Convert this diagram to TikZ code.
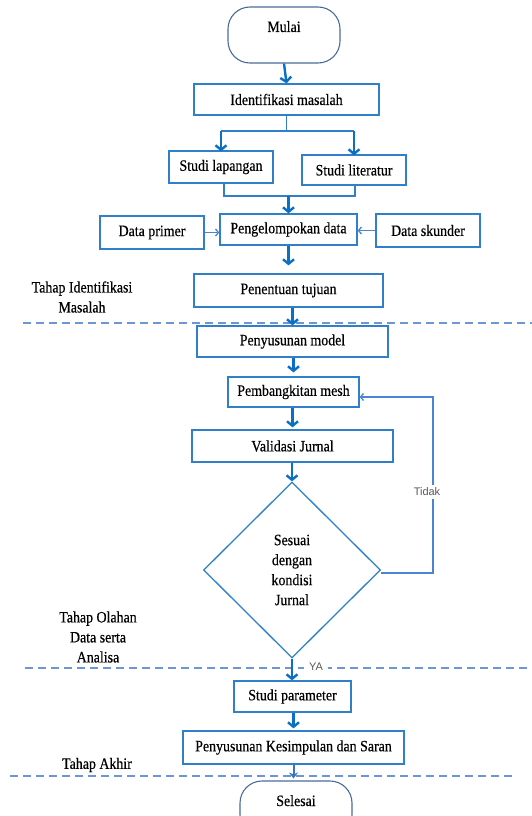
\documentclass[tikz,border=0pt]{standalone}
\usepackage{fontspec}
\setmainfont{Liberation Serif}[FakeStretch=0.88,FakeBold=0.4]
\newfontfamily\labsans{Liberation Sans}
\usetikzlibrary{arrows.meta,shapes.geometric,calc}
\definecolor{boxc}{HTML}{2F80C9}
\definecolor{arrc}{HTML}{0B6FC4}
\definecolor{thinc}{HTML}{4A86D0}
\definecolor{endc}{HTML}{3B74C4}
\definecolor{termc}{HTML}{4A6C9B}
\definecolor{dashc}{HTML}{6C96D4}
\definecolor{labc}{HTML}{5A5A5A}
\begin{document}
\begin{tikzpicture}[x=1pt,y=-1pt,
  every node/.style={font=\fontsize{15.8}{20}\selectfont},
  box/.style={draw=boxc,line width=1.3pt,inner sep=0pt,align=center},
  term/.style={draw=termc,line width=1.1pt,rounded corners=22pt,minimum width=112pt,minimum height=56pt,inner sep=0pt,text height=8pt,text depth=14pt},
  lab/.style={align=center,inner sep=0pt},
  small/.style={font=\labsans\fontsize{11}{13}\selectfont,text=labc,fill=white,inner sep=3pt},
  arr/.style={draw=arrc,line width=2.4pt,-{Straight Barb[length=4.5pt,width=11pt]}},
  ln/.style={draw=boxc,line width=1.3pt},
  thinarr/.style={draw=thinc,line width=1.3pt,-{Straight Barb[length=3pt,width=7pt]}},
  endarr/.style={draw=endc,line width=2pt,-{Stealth[length=6pt,width=9pt]}},
  dashl/.style={draw=dashc,line width=1.4pt,dash pattern=on 8pt off 5pt}
]
\useasboundingbox (0,0) rectangle (532,816);
\clip (0,0) rectangle (532,816);
\fill[white] (0,0) rectangle (532,816);

% phase separators
\draw[dashl] (23,323) -- (532,323);
\draw[dashl] (25,668) -- (532,668);
\draw[dashl] (10,776) -- (512,776);

% nodes
\node[term] (mulai) at (284,35) {Mulai};
\node[box,minimum width=185pt,minimum height=31pt] (ident) at (286.5,99.5) {Identifikasi masalah};
\node[box,minimum width=104pt,minimum height=32pt] (lap) at (221,167) {Studi lapangan};
\node[box,minimum width=104pt,minimum height=30pt] (lit) at (354,170) {Studi literatur};
\node[box,minimum width=137pt,minimum height=31pt] (kel) at (288.5,229.5) {Pengelompokan data};
\node[box,minimum width=104pt,minimum height=33pt] (prim) at (152,232.5) {Data primer};
\node[box,minimum width=104pt,minimum height=33pt] (skun) at (428,230.5) {Data skunder};
\node[box,minimum width=189pt,minimum height=33pt] (tuj) at (288.5,290.5) {Penentuan tujuan};
\node[box,minimum width=191pt,minimum height=31pt] (model) at (292.5,341.5) {Penyusunan model};
\node[box,minimum width=131pt,minimum height=30pt] (mesh) at (293.5,392) {Pembangkitan mesh};
\node[box,minimum width=201pt,minimum height=32pt] (valid) at (292.5,446) {Validasi Jurnal};
\node[diamond,draw=boxc,line width=1.3pt,minimum width=177pt,minimum height=176pt,inner sep=0pt,align=center] (dec) at (292,570) {Sesuai\\dengan\\kondisi\\Jurnal};
\node[box,minimum width=117pt,minimum height=31pt] (par) at (292.5,696.5) {Studi parameter};
\node[box,minimum width=221pt,minimum height=33pt] (kes) at (293.5,747.5) {Penyusunan Kesimpulan dan Saran};
\node[term] (sel) at (296,809) {Selesai};

% phase labels
\node[lab] (t1) at (82,297) {Tahap Identifikasi\\Masalah};
\node[lab] (t2) at (98,637) {Tahap Olahan\\Data serta\\Analisa};
\node[lab] (t3) at (97,765) {Tahap Akhir};

% connectors
\coordinate (jt) at (286.5,131);
\coordinate (jb) at (288.5,196);
\draw[arr] (mulai.south) -- (ident.north);
\draw[ln] (ident.south) -- (jt);
\draw[ln] (lap.north |- jt) -- (lit.north |- jt);
\draw[arr] (lap.north |- jt) -- ([yshift=-1pt]lap.north);
\draw[arr] (lit.north |- jt) -- ([yshift=-1pt]lit.north);
\draw[ln] ([xshift=3pt]lap.south) |- (jb) -| ([xshift=1pt]lit.south);
\draw[arr] (jb) -- (kel.north);
\draw[thinarr] (prim.east) -- (prim.east -| kel.west);
\draw[thinarr] (skun.west) -- (skun.west -| kel.east);
\draw[arr,shorten >=8pt] (kel.south) -- (kel.south |- tuj.north);
\draw[arr] (tuj.south -| model.north) -- (model.north);
\draw[arr,shorten >=4pt] (model.south -| mesh.north) -- (mesh.north);
\draw[arr,shorten >=2pt] (mesh.south -| valid.north) -- (valid.north);
\draw[arr] (valid.south -| dec.north) -- (dec.north);
\draw[arr] (dec.south) -- (dec.south |- par.north);
\draw[arr,shorten >=2pt] (par.south -| kes.north) -- (kes.north);
\draw[endarr,shorten >=2pt] (kes.south) -- (kes.south |- sel.north);

% feedback loop
\coordinate (fb) at (433,397);
\draw[thinarr] ([yshift=-3pt]dec.east) -| (fb) -- (mesh.east |- fb);
\node[small] (tidak) at (427,492) {Tidak};
\node[small,inner sep=5pt] (ya) at (316,667) {YA};
\end{tikzpicture}
\end{document}
